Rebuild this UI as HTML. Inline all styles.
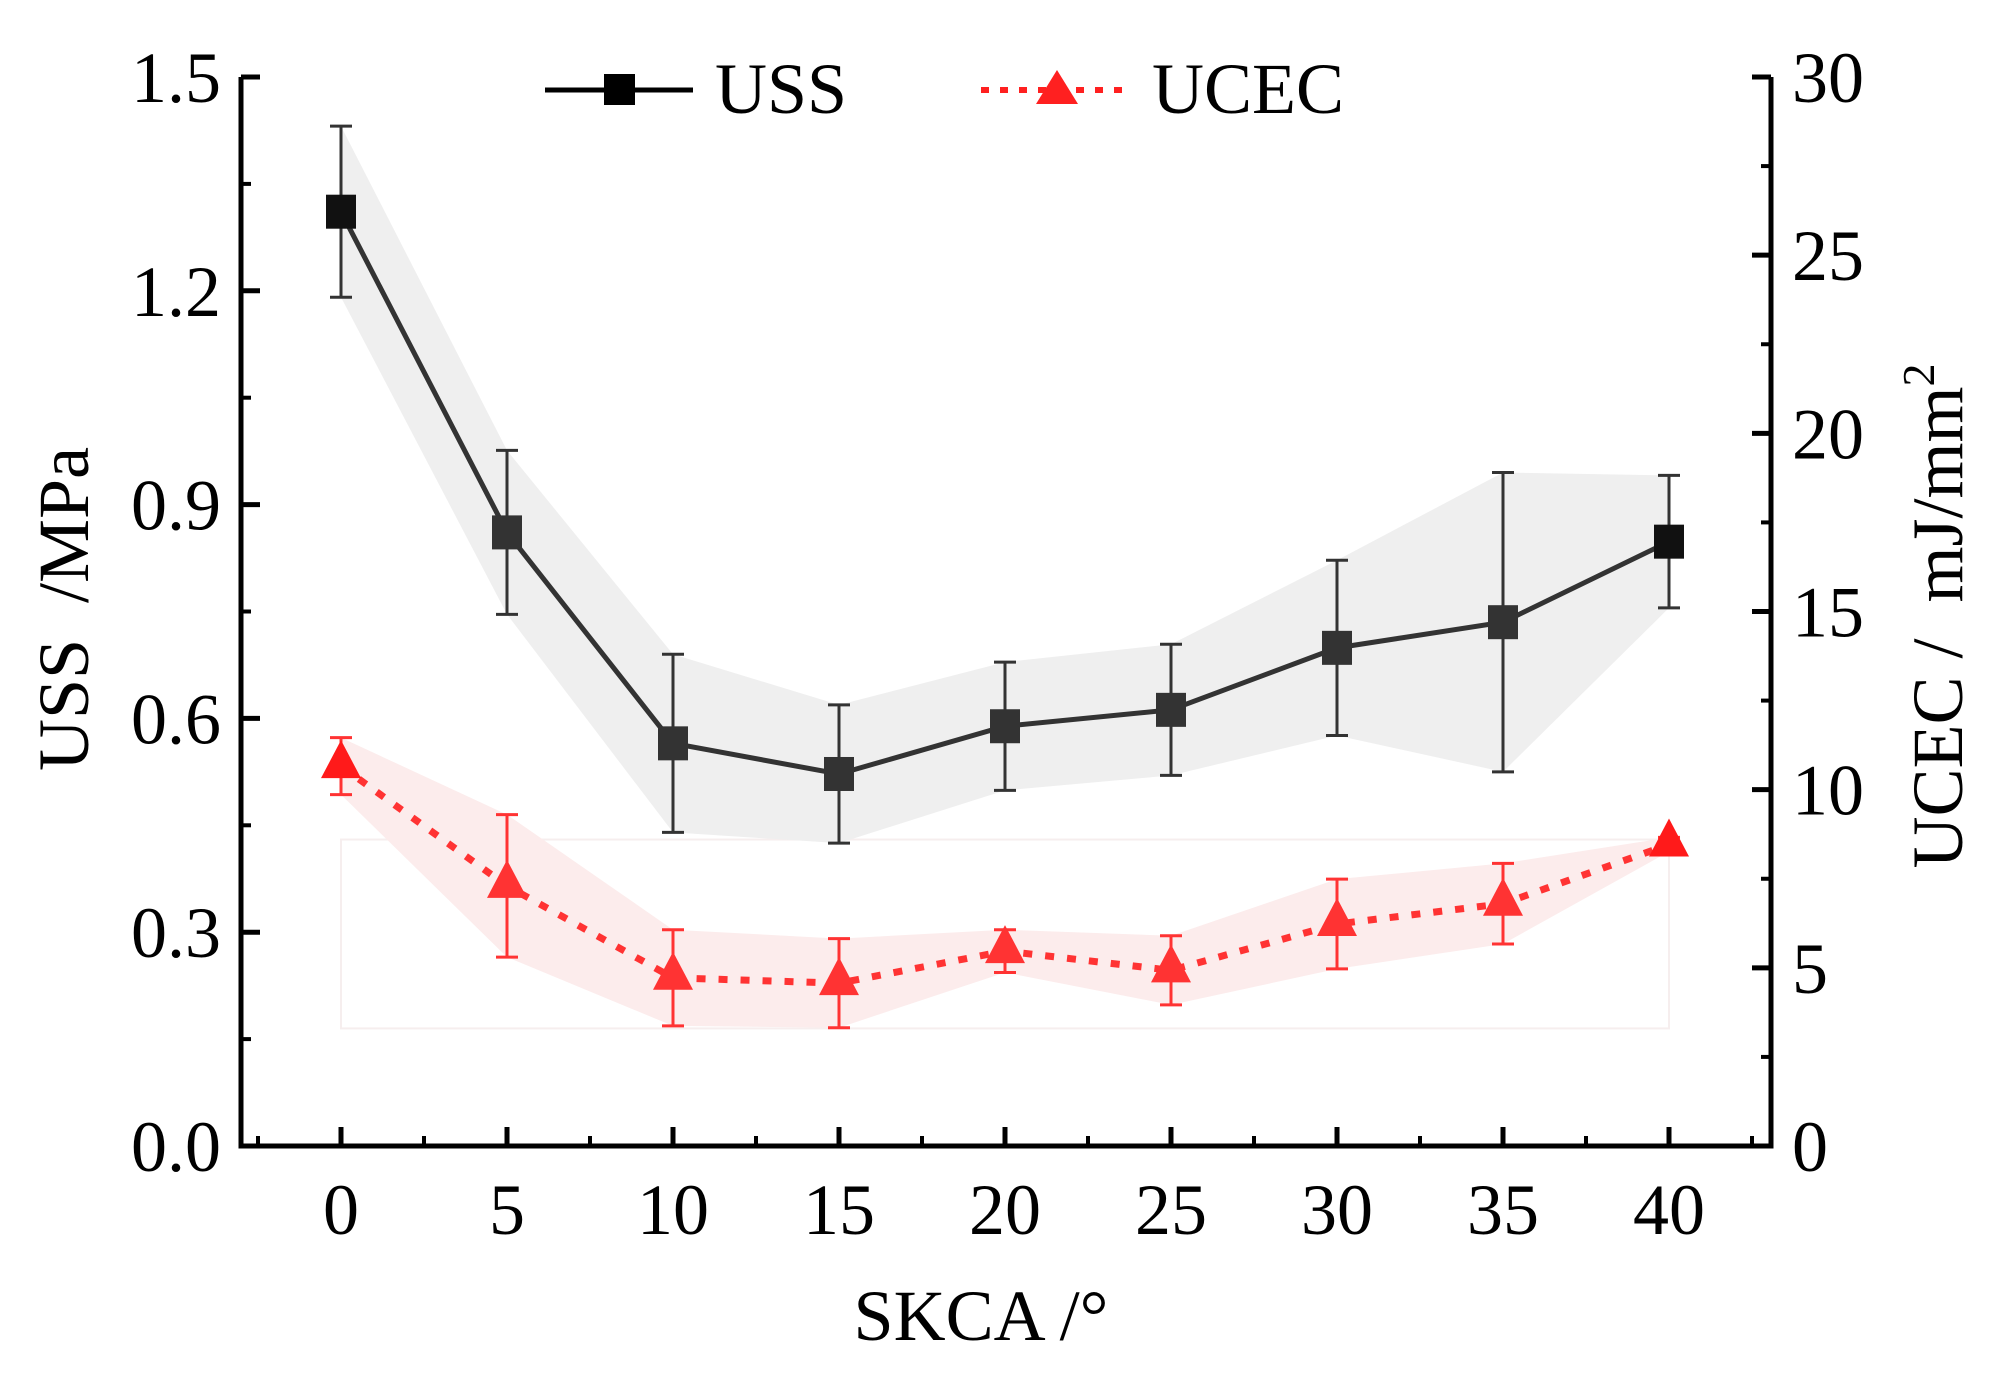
<!DOCTYPE html>
<html><head><meta charset="utf-8"><style>
html,body{margin:0;padding:0;background:#fff;}
svg text{font-family:"Liberation Serif",serif;fill:#000;}
</style></head><body>
<svg id="chart" width="2002" height="1375" viewBox="0 0 2002 1375" xmlns="http://www.w3.org/2000/svg">
<g id="bands"></g>
<g id="series"></g>
<g id="axes"></g>
<text x="981" y="1340" font-size="72" text-anchor="middle">SKCA /°</text>
<text transform="translate(88,609) rotate(-90)" font-size="72" text-anchor="middle">USS&#160;&#160;/MPa</text>
<text transform="translate(1962,616) rotate(-90)" font-size="72" text-anchor="middle">UCEC /&#160;&#160;mJ/mm<tspan font-size="46" dy="-28">2</tspan></text>
<g>
<line x1="545" y1="90" x2="693" y2="90" stroke="#000" stroke-width="5"/>
<rect x="604" y="74" width="31" height="31" fill="#000"/>
<text x="715" y="113" font-size="72">USS</text>
<line x1="981" y1="90" x2="1129" y2="90" stroke="#ff2020" stroke-width="6" stroke-dasharray="8 11"/>
<polygon points="1057,70 1078,104 1036,104" fill="#ff2020"/>
<text x="1152" y="113" font-size="72">UCEC</text>
</g>
</svg>
<script>
const categories = [0,5,10,15,20,25,30,35,40];
const ussValues = [1.311,0.861,0.565,0.522,0.589,0.612,0.699,0.735,0.848];
const ussErrors = [0.12,0.115,0.125,0.097,0.09,0.092,0.123,0.21,0.093];
const ucecValues = [10.66,7.3,4.72,4.57,5.47,4.93,6.23,6.8,8.46];
const ucecErrors = [0.8,2.0,1.35,1.25,0.6,0.97,1.26,1.13,0.2];
const xTicks = [0,5,10,15,20,25,30,35,40];
const yLeftTicks = ["0.0","0.3","0.6","0.9","1.2","1.5"];
const yRightTicks = ["0","5","10","15","20","25","30"];

const NS="http://www.w3.org/2000/svg";
const L=241,R=1771,T=77,B=1146;
const x=v=>341+(v)*(1669-341)/40;
const yl=v=>B-(v/1.5)*(B-T);
const yr=v=>B-(v/30)*(B-T);
function mk(tag,attrs,parent){const e=document.createElementNS(NS,tag);for(const k in attrs)e.setAttribute(k,attrs[k]);parent.appendChild(e);return e;}
const axes=document.getElementById('axes'),bands=document.getElementById('bands'),series=document.getElementById('series');

let fr=mk('rect',{x:x(0),y:yr(8.6),width:x(40)-x(0),height:yr(3.3)-yr(8.6),fill:'none',stroke:'#f6eeee','stroke-width':2},bands);



function band(vals,errs,ys,fill,name){
  const up=vals.map((v,i)=>x(categories[i])+','+ys(v+errs[i]));
  const lo=vals.map((v,i)=>x(categories[i])+','+ys(v-errs[i])).reverse();
  const p=mk('polygon',{points:up.concat(lo).join(' '),fill:fill},bands);
  
  
}
band(ussValues,ussErrors,yl,'#efefef','uss-band');
band(ucecValues,ucecErrors,yr,'#fcecec','ucec-band');

const ussPts=ussValues.map((v,i)=>x(categories[i])+','+yl(v)).join(' ');
const ul=mk('polyline',{points:ussPts,fill:'none',stroke:'#333','stroke-width':5},series);


const ucPts=ucecValues.map((v,i)=>x(categories[i])+','+yr(v)).join(' ');
const cl=mk('polyline',{points:ucPts,fill:'none',stroke:'#ff3333','stroke-width':7,'stroke-dasharray':'9 13'},series);



categories.forEach((c,i)=>{
  const cx=x(c);
  let t=yl(ussValues[i]+ussErrors[i]),b=yl(ussValues[i]-ussErrors[i]);
  const g=mk('g',{},series);
  
  
  mk('line',{x1:cx,y1:t,x2:cx,y2:b,stroke:'#333','stroke-width':3},g);
  mk('line',{x1:cx-11,y1:t,x2:cx+11,y2:t,stroke:'#333','stroke-width':3},g);
  mk('line',{x1:cx-11,y1:b,x2:cx+11,y2:b,stroke:'#333','stroke-width':3},g);
  const sq=mk('rect',{x:cx-15,y:yl(ussValues[i])-17,width:30,height:34,fill:i==0||i==8?'#111':'#333'},series);
  
  
  t=yr(ucecValues[i]+ucecErrors[i]);b=yr(ucecValues[i]-ucecErrors[i]);
  const g2=mk('g',{},series);
  
  
  mk('line',{x1:cx,y1:t,x2:cx,y2:b,stroke:'#ff3333','stroke-width':3},g2);
  mk('line',{x1:cx-11,y1:t,x2:cx+11,y2:t,stroke:'#ff3333','stroke-width':3},g2);
  mk('line',{x1:cx-11,y1:b,x2:cx+11,y2:b,stroke:'#ff3333','stroke-width':3},g2);
  const cy=yr(ucecValues[i]);
  const tri=mk('polygon',{points:`${cx},${cy-26} ${cx+20},${cy+12} ${cx-20},${cy+12}`,fill:i==0||i==8?'#ff1a1a':'#ff3333'},series);
  
  
});

const ax=mk('path',{d:`M${L},${T} L${L},${B} L${R},${B} L${R},${T}`,fill:'none',stroke:'#000','stroke-width':5},axes);


yLeftTicks.forEach((lab,i)=>{
  const v=parseFloat(lab),yy=yl(v);
  mk('line',{x1:L,y1:yy,x2:L+19,y2:yy,stroke:'#000','stroke-width':5},axes);
  if(i<yLeftTicks.length-1){const ym=yl(v+0.15);mk('line',{x1:L,y1:ym,x2:L+10,y2:ym,stroke:'#000','stroke-width':4},axes);}
  const t=mk('text',{x:221,y:yy+25,'font-size':72,'text-anchor':'end'},axes);
  t.textContent=lab;
  
  
});
yRightTicks.forEach((lab,i)=>{
  const v=parseFloat(lab),yy=yr(v);
  mk('line',{x1:R,y1:yy,x2:R-19,y2:yy,stroke:'#000','stroke-width':5},axes);
  if(i<yRightTicks.length-1){const ym=yr(v+2.5);mk('line',{x1:R,y1:ym,x2:R-10,y2:ym,stroke:'#000','stroke-width':4},axes);}
  const t=mk('text',{x:1792,y:yy+25,'font-size':72,'text-anchor':'start'},axes);
  t.textContent=lab;
  
  
});
xTicks.forEach(v=>{
  const xx=x(v);
  mk('line',{x1:xx,y1:B,x2:xx,y2:B-19,stroke:'#000','stroke-width':5},axes);
  const t=mk('text',{x:xx,y:1234,'font-size':72,'text-anchor':'middle'},axes);
  t.textContent=String(v);
  
  
});
[-2.5,2.5,7.5,12.5,17.5,22.5,27.5,32.5,37.5,42.5].forEach(v=>{
  const xx=x(v);mk('line',{x1:xx,y1:B,x2:xx,y2:B-10,stroke:'#000','stroke-width':4},axes);
});
</script>
</body></html>
